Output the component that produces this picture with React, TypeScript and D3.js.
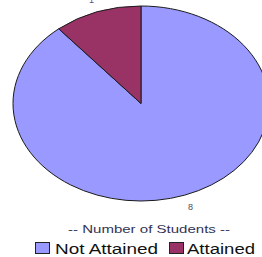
import * as d3 from "d3";

const categories = ["Not Attained", "Attained"];
const values = [8, 1];
const colors = ["#9999FF", "#993366"];
const legendTitle = "-- Number of Students --";

export default function App() {
  const width = 262;
  const height = 257;
  const cx = 141;
  const cy = 103.5;
  const rx = 128;
  const ry = 97.5;

  const pie = d3.pie<number>().sort(null)(values);
  const arc = d3.arc<d3.PieArcDatum<number>>().innerRadius(0).outerRadius(rx);
  const labelArc = d3
    .arc<d3.PieArcDatum<number>>()
    .innerRadius(rx * 1.13)
    .outerRadius(rx * 1.13);

  // legend layout (text looks horizontally stretched in the original)
  const legend = [
    { box: 35, text: 55, len: 103 },
    { box: 169, text: 187, len: 68 },
  ];

  return (
    <svg
      width={width}
      height={height}
      style={{ position: "absolute", left: 0, top: 0, fontFamily: "Liberation Sans, Arial, sans-serif" }}
    >
      <rect width={width} height={height} fill="#fff" />
      <g transform={`translate(${cx},${cy}) scale(1,${ry / rx})`}>
        {pie.map((d, i) => (
          <path
            key={categories[i]}
            d={arc(d) ?? ""}
            fill={colors[i]}
            stroke="#1a1a1a"
            strokeWidth={1}
            vectorEffect="non-scaling-stroke"
          />
        ))}
      </g>
      {pie.map((d, i) => {
        const [lx, ly] = labelArc.centroid(d);
        return (
          <text
            key={"l" + i}
            x={cx + lx}
            y={cy + ly * (ry / rx)}
            dy="0.35em"
            textAnchor="middle"
            fontSize={9}
            fill={i === 0 ? "#4a4a55" : "#6a4a8a"}
          >
            {d.data}
          </text>
        );
      })}
      <text
        x={68}
        y={233}
        fontSize={10.5}
        fill="#333355"
        textLength={162}
        lengthAdjust="spacingAndGlyphs"
        style={{ whiteSpace: "pre" }}
      >
        {legendTitle}
      </text>
      {categories.map((c, i) => (
        <g key={c}>
          <rect
            x={legend[i].box + 0.5}
            y={242.5}
            width={14}
            height={11}
            fill={colors[i]}
            stroke="#222"
            strokeWidth={1}
          />
          <text
            x={legend[i].text}
            y={254}
            fontSize={15.5}
            fill="#111"
            textLength={legend[i].len}
            lengthAdjust="spacingAndGlyphs"
          >
            {c}
          </text>
        </g>
      ))}
    </svg>
  );
}
